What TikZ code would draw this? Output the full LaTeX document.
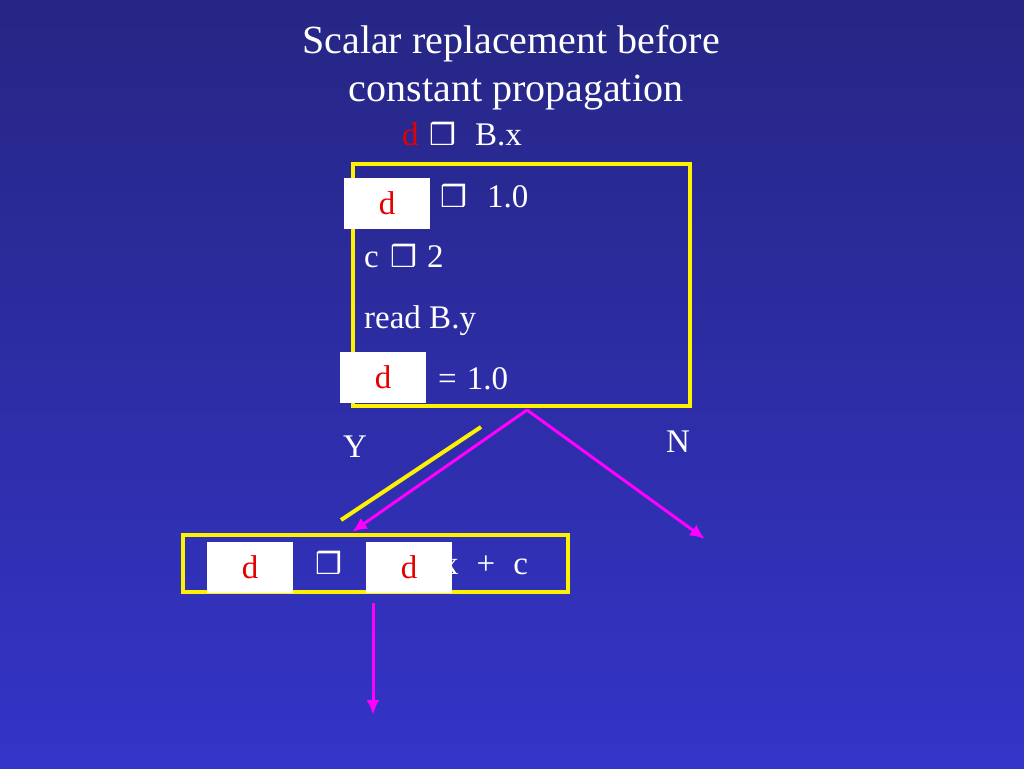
\documentclass[tikz,border=0pt]{standalone}
\usepackage{fontspec}
\setmainfont{Liberation Serif}
\newfontfamily\dingfont{DejaVu Sans}
\newcommand{\sqsym}{{\dingfont\bfseries\fontsize{30}{30}\selectfont ❒}}
\usetikzlibrary{arrows.meta}
\definecolor{bgtop}{RGB}{38,38,132}
\definecolor{bgbot}{RGB}{52,52,200}
\definecolor{dred}{RGB}{230,0,0}
\definecolor{pink}{RGB}{255,0,255}

\begin{document}
\begin{tikzpicture}[x=1pt,y=-1pt,
  txt/.style={text=white,inner sep=0pt,anchor=base west,font=\fontsize{33}{33}\selectfont},
  ttl/.style={text=white,inner sep=0pt,anchor=base,font=\fontsize{40}{40}\selectfont},
  dbox/.style={fill=white,text=dred,inner sep=0pt,minimum width=86pt,minimum height=51pt,font=\fontsize{33}{33}\selectfont},
  blk/.style={draw=yellow,line width=4pt,inner sep=0pt},
  flow/.style={draw=pink,line width=3pt,-{Latex[length=15pt,width=13pt]}}]
\shade[top color=bgtop,bottom color=bgbot] (0,0) rectangle (1024,768);
\useasboundingbox (0,0) rectangle (1024,768);

\node[ttl] (t1) at (511,53) {Scalar replacement before};
\node[ttl] (t2) at (516,101) {constant propagation};

\node[txt,text=dred] (d0) at (402,145) {d};
\node[txt] (s0) at (429,145) {\sqsym};
\node[txt] (bx) at (475,145) {B.x};

\node[blk,minimum width=337pt,minimum height=242pt] (b1) at (521.5,285) {};
\node[txt] (s1) at (440,207) {\sqsym};
\node[txt] (v1) at (487,207) {1.0};
\node[txt] (c1) at (364,267) {c};
\node[txt] (s2) at (390,267) {\sqsym};
\node[txt] (v2) at (427,267) {2};
\node[txt] (rd) at (364,328) {read B.y};
\node[txt] (eq) at (438,389) {=\hspace{10pt}1.0};
\node[dbox] (d1) at (387,203.5) {d};
\node[dbox] (d2) at (383,377.5) {d};

\node[txt] (y) at (343,457) {Y};
\node[txt] (n) at (666,452) {N};

\node[blk,minimum width=385pt,minimum height=57pt] (b2) at (375.5,563.5) {};
\node[txt] (s3) at (315,574) {\sqsym};
\node[txt] (xc) at (442,574) {x\hspace{18pt}+\hspace{18pt}c};
\node[dbox] (d3) at (250,567.5) {d};
\node[dbox] (d4) at (409,567.5) {d};

\coordinate (apex) at (527,410);
\coordinate (yl) at (352,532);
\coordinate (nr) at (705,539);
\coordinate (ya) at (481,427);
\coordinate (yb) at (341,520);
\coordinate (bot) at (373,603);
\coordinate (out) at (373,715);
\draw[yellow,line width=4pt] (ya) -- (yb);
\path (apex) edge[flow] (yl) (apex) edge[flow] (nr);
\draw[flow] (bot) -- (out);
\end{tikzpicture}
\end{document}
